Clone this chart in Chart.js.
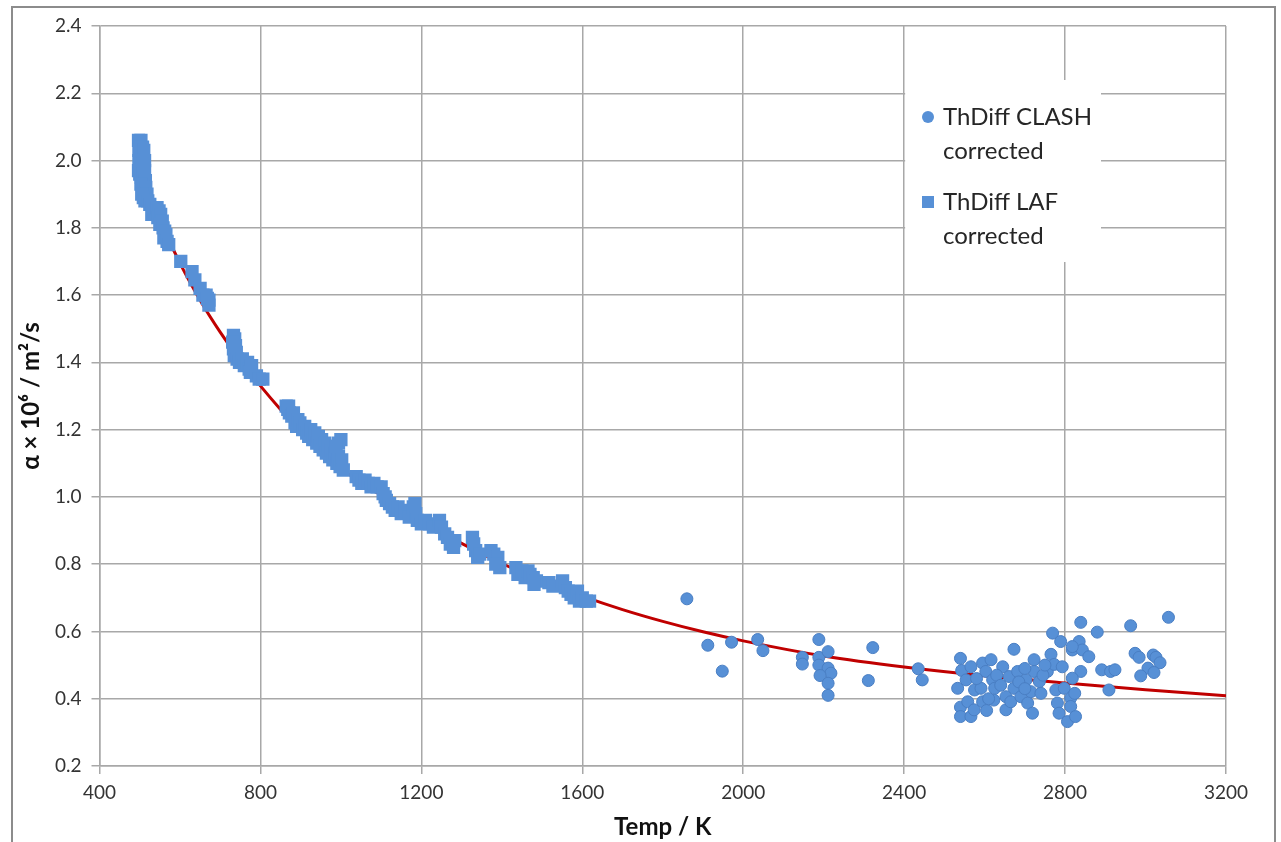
<!DOCTYPE html>
<html>
<head>
<meta charset="utf-8">
<script src="https://cdn.jsdelivr.net/npm/chart.js@4.4.1/dist/chart.umd.min.js"></script>
<style>
  html, body { margin: 0; padding: 0; background: #ffffff; }
  canvas { display: block; }
</style>
</head>
<body>
<canvas id="myChart" width="1281" height="842"></canvas>

<script>
    // thermal diffusivity, alpha x 10^6 in m2/s, against temperature in K
    var clashPoints = [
        [1860,0.697],[1912,0.559],[1948,0.482],[1971,0.568],[2036,0.576],[2049,0.543],
        [2147,0.523],[2147,0.503],[2188,0.576],[2188,0.523],[2188,0.500],[2211,0.540],
        [2211,0.491],[2218,0.476],[2191,0.469],[2211,0.446],[2211,0.410],[2322,0.552],
        [2311,0.454],[2435,0.489],[2445,0.456],
        [2540,0.520],[2543,0.484],[2533,0.431],[2554,0.456],[2566,0.495],[2540,0.375],
        [2540,0.347],[2558,0.391],[2566,0.347],[2574,0.367],[2575,0.426],[2591,0.431],
        [2595,0.506],[2616,0.516],[2603,0.481],[2595,0.391],[2605,0.365],[2623,0.396],
        [2620,0.456],[2625,0.431],[2645,0.495],[2661,0.466],[2653,0.406],[2653,0.367],
        [2665,0.391],[2673,0.547],[2673,0.431],[2682,0.481],[2690,0.406],[2703,0.456],
        [2707,0.387],[2719,0.357],[2723,0.516],[2723,0.481],[2715,0.421],[2736,0.451],
        [2740,0.416],[2756,0.481],[2765,0.532],[2773,0.502],[2769,0.595],[2777,0.426],
        [2781,0.387],[2785,0.357],[2789,0.570],[2793,0.495],[2798,0.431],[2806,0.332],
        [2814,0.402],[2814,0.377],[2826,0.347],[2824,0.416],[2839,0.627],[2818,0.545],
        [2835,0.570],[2843,0.545],[2859,0.525],[2839,0.481],[2818,0.461],[2880,0.598],
        [2963,0.617],[3057,0.642],[2818,0.555],[2891,0.486],[2913,0.481],[2924,0.486],
        [2909,0.426],[2974,0.535],[2984,0.523],[3019,0.530],[3026,0.523],[3036,0.507],
        [3006,0.491],[2988,0.468],[3021,0.478],
        [2630,0.470],[2640,0.440],[2685,0.450],[2700,0.490],[2745,0.470],[2750,0.500],
        [2700,0.430],[2610,0.400],[2580,0.460]
    ];

    var lafPoints = [
        [497,2.06],[500,2.05],[503,2.06],[507,2.04],[498,2.03],[502,2.02],[506,2.01],[510,2.03],
        [498,2.00],[501,1.99],[505,1.98],[509,1.99],[512,2.00],[497,1.97],[500,1.96],[504,1.95],
        [508,1.96],[512,1.97],[514,1.94],[503,1.93],[507,1.92],[511,1.91],[515,1.92],[518,1.90],
        [505,1.90],[509,1.89],[513,1.88],[520,1.88],[525,1.87],[532,1.86],[530,1.84],[537,1.85],
        [543,1.86],[548,1.85],[545,1.83],[552,1.84],[556,1.82],[550,1.81],[558,1.80],[562,1.79],
        [565,1.78],[560,1.77],[568,1.76],[572,1.75],
        [602,1.70],[630,1.67],[637,1.645],[650,1.62],[657,1.60],[665,1.60],[672,1.585],[672,1.57],[668,1.59],
        [733,1.48],[736,1.47],[731,1.46],[738,1.45],[733,1.44],[740,1.43],[735,1.42],[742,1.41],
        [748,1.40],[755,1.41],[760,1.39],[768,1.40],[772,1.38],[778,1.39],[775,1.37],[790,1.36],
        [797,1.35],[806,1.35],
        [864,1.27],[868,1.26],[872,1.25],[870,1.27],[878,1.24],[882,1.25],[886,1.22],[890,1.21],
        [893,1.23],[898,1.22],[905,1.20],[910,1.21],[915,1.19],[920,1.18],[925,1.20],[930,1.17],
        [935,1.19],[940,1.16],[944,1.18],[948,1.15],[952,1.17],[956,1.14],[960,1.16],[964,1.13],
        [968,1.15],[972,1.12],[976,1.14],[980,1.11],[985,1.13],[990,1.10],[994,1.12],[998,1.09],
        [1002,1.11],[1006,1.08],[994,1.16],[1000,1.17],[988,1.15],
        [1038,1.06],[1045,1.05],[1052,1.04],[1060,1.05],[1068,1.04],[1075,1.03],[1082,1.04],
        [1090,1.03],[1100,1.03],[1105,1.01],[1110,1.00],[1113,0.99],[1121,0.98],[1128,0.97],
        [1135,0.96],[1142,0.97],[1150,0.95],[1160,0.96],[1170,0.94],[1180,0.97],[1184,0.98],
        [1186,0.95],[1190,0.93],[1200,0.92],[1210,0.93],[1220,0.92],[1230,0.91],[1245,0.93],
        [1250,0.91],[1258,0.89],[1265,0.88],[1272,0.86],[1280,0.85],[1283,0.87],
        [1327,0.88],[1330,0.86],[1335,0.84],[1340,0.82],[1345,0.83],[1373,0.84],[1380,0.83],
        [1390,0.82],[1395,0.79],[1385,0.80],[1435,0.79],[1440,0.77],[1450,0.78],[1458,0.76],
        [1465,0.78],[1470,0.77],[1478,0.76],[1486,0.75],[1480,0.74],[1517,0.745],[1527,0.735],
        [1551,0.75],[1558,0.73],[1565,0.72],[1572,0.71],[1580,0.70],[1588,0.72],[1593,0.69],
        [1600,0.70],[1610,0.69],[1618,0.69]
    ];

    // fitted curve
    var fitTemp  = [500, 550, 600, 650, 700, 750, 800, 850, 900, 950, 1000, 1100, 1200, 1300, 1400,
                    1500, 1600, 1700, 1800, 1900, 2000, 2200, 2400, 2600, 2800, 3000, 3200];
    var fitAlpha = [1.99, 1.825, 1.695, 1.585, 1.49, 1.405, 1.33, 1.26, 1.195, 1.137, 1.085, 1.005, 0.93, 0.862, 0.802,
                    0.75, 0.705, 0.665, 0.63, 0.599, 0.572, 0.527, 0.494, 0.468, 0.447, 0.427, 0.409];

    var legendLines = [
        ['ThDiff CLASH', 'corrected'],
        ['ThDiff LAF', 'corrected']
    ];

    var xTicks = [400, 800, 1200, 1600, 2000, 2400, 2800, 3200];

    var BLUE = '#5790d6';
    var GRID = '#a8a8a8';
    var FONT = 'Lato, "Open Sans", sans-serif';

    function toXY(list) {
        var out = [];
        for (var i = 0; i < list.length; i++) {
            out.push({ x: list[i][0], y: list[i][1] });
        }
        return out;
    }

    var fitData = [];
    for (var i = 0; i < fitTemp.length; i++) {
        fitData.push({ x: fitTemp[i], y: fitAlpha[i] });
    }

    // white page with the grey outer frame
    var frame = {
        id: 'frame',
        beforeDraw: function (chart) {
            var c = chart.ctx;
            c.save();
            c.fillStyle = '#ffffff';
            c.fillRect(0, 0, chart.width, chart.height);
            c.strokeStyle = '#8c8c8c';
            c.lineWidth = 2;
            c.strokeRect(12, 7, 1263, 850);
            c.restore();
        }
    };

    // legend box sitting inside the plot, over the grid
    var boxLegend = {
        id: 'boxLegend',
        afterDraw: function (chart) {
            var c = chart.ctx;
            var xs = chart.scales.x;
            var left = xs.getPixelForValue(2400) + 1;
            c.save();
            c.fillStyle = '#ffffff';
            c.fillRect(left, 80, 1101 - left, 182);
            c.font = '24px ' + FONT;
            c.textBaseline = 'middle';
            var rows = [117, 202];
            for (var k = 0; k < legendLines.length; k++) {
                var ds = chart.data.datasets[k];
                var y = rows[k];
                c.fillStyle = ds.backgroundColor;
                if (ds.pointStyle === 'rect') {
                    c.fillRect(922, y - 6, 12, 12);
                } else {
                    c.beginPath();
                    c.arc(928, y, 6, 0, Math.PI * 2);
                    c.fill();
                }
                c.fillStyle = '#262626';
                c.fillText(legendLines[k][0], 943, y);
                c.fillText(legendLines[k][1], 943, y + 34);
            }
            c.restore();
        }
    };

    var ctx = document.getElementById('myChart').getContext('2d');
    var chart = new Chart(ctx, {
        type: 'scatter',
        data: {
            datasets: [{
                label: legendLines[0].join(' '),
                data: toXY(clashPoints),
                pointStyle: 'circle',
                pointRadius: 6,
                pointHoverRadius: 6,
                backgroundColor: BLUE,
                borderColor: '#4a7fc4',
                borderWidth: 1,
                order: 1
            }, {
                label: legendLines[1].join(' '),
                data: toXY(lafPoints),
                pointStyle: 'rect',
                pointRadius: 9.4,
                pointHoverRadius: 9.4,
                backgroundColor: BLUE,
                borderColor: BLUE,
                borderWidth: 0,
                order: 2
            }, {
                label: 'fit',
                type: 'line',
                data: fitData,
                showLine: true,
                pointRadius: 0,
                borderColor: '#c00000',
                borderWidth: 3,
                cubicInterpolationMode: 'monotone',
                fill: false,
                order: 3
            }]
        },
        options: {
            responsive: false,
            animation: false,
            events: [],
            layout: { padding: { left: 0, right: 55, top: 26, bottom: 0 } },
            plugins: {
                legend: { display: false },
                tooltip: { enabled: false }
            },
            scales: {
                x: {
                    type: 'linear',
                    min: 400,
                    max: 3200,
                    afterFit: function (s) { s.height = 76; },
                    afterBuildTicks: function (s) {
                        s.ticks = xTicks.map(function (v) { return { value: v }; });
                    },
                    grid: { color: GRID, lineWidth: 1.5, tickLength: 8, tickColor: GRID },
                    border: { color: GRID, width: 1.5 },
                    ticks: {
                        color: '#333333',
                        padding: 7,
                        maxRotation: 0,
                        autoSkip: false,
                        font: { family: FONT, size: 19 },
                        callback: function (v) { return String(v); }
                    },
                    title: {
                        display: true,
                        text: 'Temp / K',
                        color: '#111111',
                        padding: { top: 0, bottom: 0 },
                        font: { family: FONT, size: 24, weight: 'bold' }
                    }
                },
                y: {
                    type: 'linear',
                    min: 0.2,
                    max: 2.4,
                    afterFit: function (s) { s.width = 99.5; },
                    grid: { color: GRID, lineWidth: 1.5, tickLength: 8, tickColor: GRID },
                    border: { color: GRID, width: 1.5 },
                    ticks: {
                        stepSize: 0.2,
                        color: '#333333',
                        padding: 10,
                        font: { family: FONT, size: 19 },
                        callback: function (v) { return v.toFixed(1); }
                    },
                    title: {
                        display: true,
                        text: 'α × 10⁶ / m²/s',
                        color: '#111111',
                        padding: { top: 17, bottom: 0 },
                        font: { family: FONT, size: 24, weight: 'bold' }
                    }
                }
            }
        },
        plugins: [frame, boxLegend]
    });
</script>
</body>
</html>
